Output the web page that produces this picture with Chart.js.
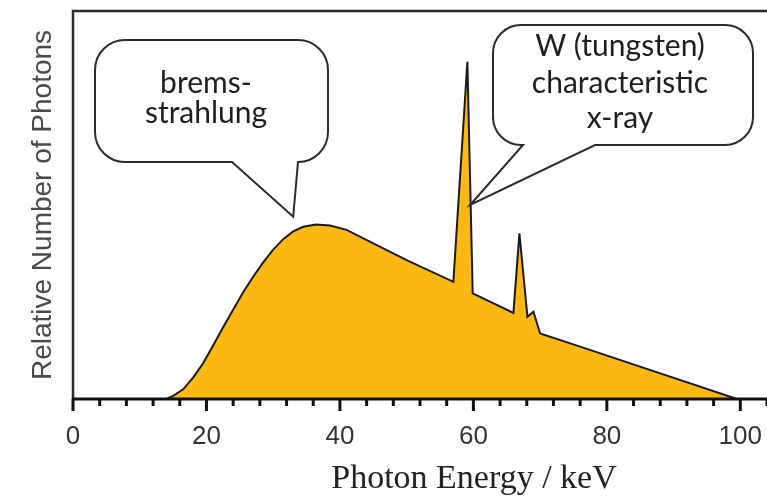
<!DOCTYPE html>
<html>
<head>
<meta charset="utf-8">
<script src="https://cdn.jsdelivr.net/npm/chart.js@4"></script>
<style>
  html, body { margin: 0; padding: 0; background: #fff; }
  #wrap { width: 767px; height: 497px; }
</style>
</head>
<body>
<div id="wrap"><canvas id="spectrumChart"></canvas></div>
<script>
// espectro de raios X: energia (keV) e numero relativo de fotons (% da altura)
const energias = [0, 14.0, 15.0, 16.5, 18.0, 19.5, 21.0, 22.5, 24.0, 25.5, 27.0, 28.5, 30.0, 31.5, 33.0, 34.5, 36.4, 38.5, 41.0, 45.0, 50.0, 57.0, 59.1, 59.9, 66.0, 66.9, 68.1, 69.0, 70.0, 76.0, 99.5];
const fotons   = [0, 0, 0.8, 2.5, 5.5, 9.2, 13.8, 18.5, 23.0, 27.5, 31.5, 35.2, 38.5, 41.2, 43.2, 44.4, 45.0, 44.7, 43.6, 40.1, 35.8, 30.2, 86.9, 27.2, 22.2, 42.7, 21.2, 22.5, 16.9, 13.5, 0];
const ticksX = [0, 20, 40, 60, 80, 100];
const textoBrems = ['brems-', 'strahlung'];
const textoW = ['W (tungsten)', 'characteristic', 'x-ray'];

function desenharBalao(ctx, r, base, ponta, linhas, cx, baselines) {
    const { x, y, w, h, rad } = r;
    ctx.beginPath();
    ctx.moveTo(x + rad, y);
    ctx.lineTo(x + w - rad, y);
    ctx.arcTo(x + w, y, x + w, y + rad, rad);
    ctx.lineTo(x + w, y + h - rad);
    ctx.arcTo(x + w, y + h, x + w - rad, y + h, rad);
    ctx.lineTo(base[1], y + h);
    ctx.lineTo(ponta.x, ponta.y);
    ctx.lineTo(base[0], y + h);
    ctx.lineTo(x + rad, y + h);
    ctx.arcTo(x, y + h, x, y + h - rad, rad);
    ctx.lineTo(x, y + rad);
    ctx.arcTo(x, y, x + rad, y, rad);
    ctx.closePath();
    ctx.fillStyle = '#fff';
    ctx.fill();
    ctx.strokeStyle = '#2b2b2b';
    ctx.lineWidth = 2;
    ctx.stroke();

    ctx.fillStyle = '#1e1e1e';
    ctx.font = '30px Lato';
    ctx.textAlign = 'center';
    ctx.textBaseline = 'alphabetic';
    linhas.forEach((t, i) => ctx.fillText(t, cx, baselines[i]));
}

const extras = {
    id: 'extras',
    afterDatasetsDraw(chart) {
        const { ctx, chartArea, scales: { x, y } } = chart;
        ctx.save();
        // moldura: topo e eixo y
        ctx.strokeStyle = '#2a2a2a';
        ctx.lineWidth = 2.5;
        ctx.beginPath();
        ctx.moveTo(chartArea.right, chartArea.top);
        ctx.lineTo(chartArea.left, chartArea.top);
        ctx.lineTo(chartArea.left, chartArea.bottom);
        ctx.stroke();

        // eixo x com marcas
        ctx.strokeStyle = '#111';
        ctx.lineWidth = 3;
        ctx.beginPath();
        ctx.moveTo(chartArea.left - 1, chartArea.bottom);
        ctx.lineTo(chartArea.right, chartArea.bottom);
        ctx.stroke();
        x.ticks.forEach(t => {
            const px = x.getPixelForValue(t.value);
            const len = ticksX.includes(t.value) ? 12 : 7;
            ctx.beginPath();
            ctx.moveTo(px, chartArea.bottom);
            ctx.lineTo(px, chartArea.bottom + len);
            ctx.stroke();
        });

        // titulo do eixo x
        ctx.fillStyle = '#222';
        ctx.font = '34px "Liberation Serif"';
        ctx.textAlign = 'center';
        ctx.textBaseline = 'alphabetic';
        ctx.fillText('Photon Energy / keV', 474, 488);

        // baloes
        desenharBalao(ctx, { x: 95, y: 40, w: 233, h: 122, rad: 30 }, [232, 298],
            { x: x.getPixelForValue(33), y: y.getPixelForValue(47) },
            textoBrems, 206, [93, 123]);
        desenharBalao(ctx, { x: 493, y: 25, w: 260, h: 120, rad: 28 }, [523, 595],
            { x: x.getPixelForValue(59.5), y: y.getPixelForValue(50) },
            textoW, 620, [56, 93, 128]);
        ctx.restore();
    }
};

new Chart(document.getElementById('spectrumChart'), {
    type: 'line',
    data: {
        datasets: [{
            data: energias.map((e, i) => ({ x: e, y: fotons[i] })),
            fill: 'origin',
            backgroundColor: '#FDB913',
            borderColor: '#1a1a1a',
            borderWidth: 2,
            pointRadius: 0,
            tension: 0
        }]
    },
    options: {
        responsive: true,
        maintainAspectRatio: false,
        animation: false,
        layout: { padding: { top: 11, right: 0, left: 0, bottom: 0 } },
        plugins: { legend: { display: false }, tooltip: { enabled: false } },
        scales: {
            x: {
                type: 'linear',
                min: 0,
                max: 104,
                grid: { display: false, drawTicks: false },
                border: { display: false },
                ticks: {
                    stepSize: 4,
                    autoSkip: false,
                    maxRotation: 0,
                    padding: 22,
                    color: '#333',
                    font: { family: '"Liberation Sans"', size: 26 },
                    callback: v => ticksX.includes(v) ? v : ''
                },
                afterFit: s => { s.height = 98; s.paddingLeft = 0; s.paddingRight = 0; }
            },
            y: {
                min: 0,
                max: 100,
                grid: { display: false },
                border: { display: false },
                ticks: { display: false },
                title: {
                    display: true,
                    text: 'Relative Number of Photons',
                    color: '#4a4a4a',
                    font: { family: '"Liberation Sans"', size: 28 },
                    padding: { top: 26, bottom: 0 }
                },
                afterFit: s => { s.width = 73; }
            }
        }
    },
    plugins: [extras]
});
</script>
</body>
</html>
